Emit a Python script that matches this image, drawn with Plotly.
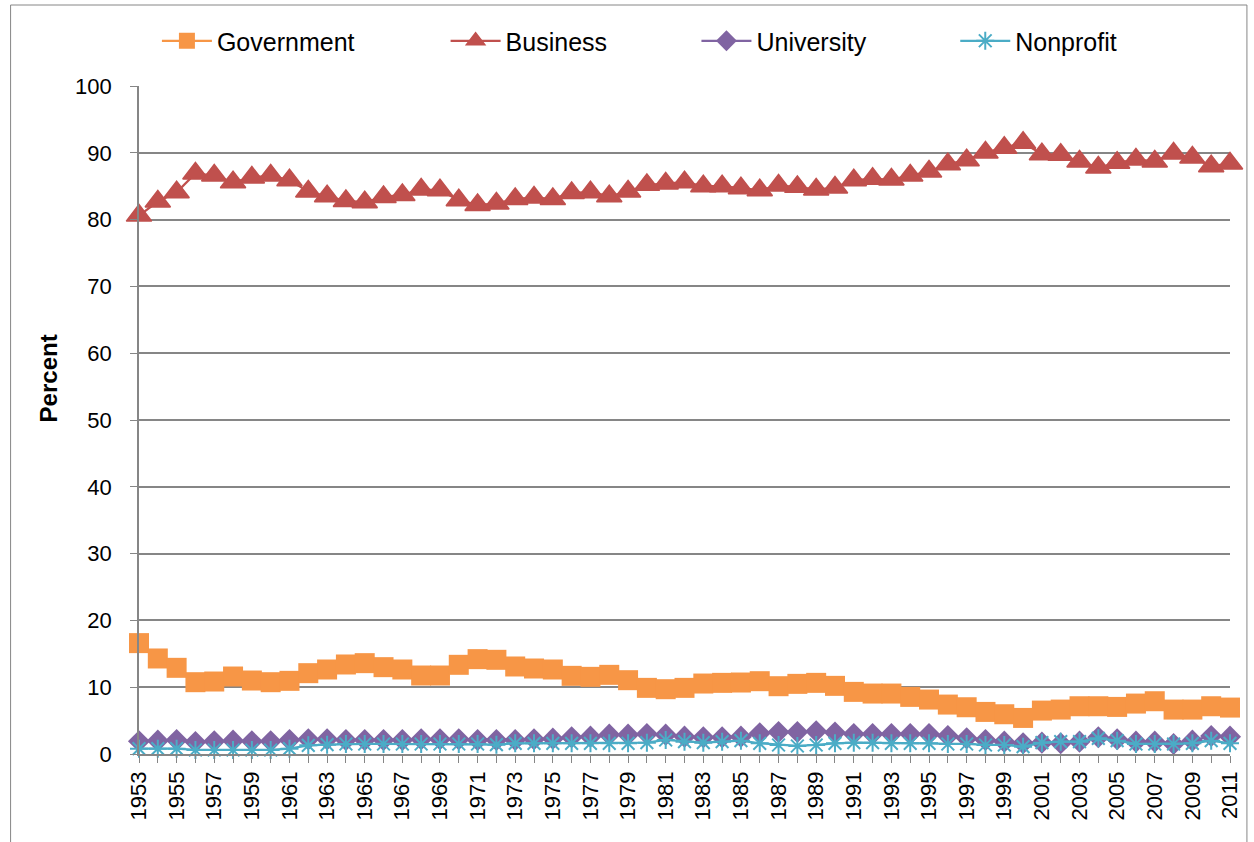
import plotly.graph_objects as go

years = list(range(1953, 2012))
tick_labels = [str(y) if y % 2 == 1 else "" for y in years]

government = [16.6, 14.3, 12.9, 10.75, 10.85, 11.6, 11.0, 10.75, 10.95, 12.1,
              12.65, 13.4, 13.6, 13.0, 12.65, 11.75, 11.75, 13.35, 14.2, 14.1,
              13.1, 12.8, 12.65, 11.7, 11.55, 11.85, 11.05, 9.9, 9.7, 9.9,
              10.55, 10.65, 10.7, 10.9, 10.15, 10.5, 10.65, 10.2, 9.3, 9.05,
              9.05, 8.55, 8.15, 7.4, 7.0, 6.3, 5.95, 5.4, 6.5, 6.65,
              7.15, 7.15, 7.05, 7.55, 7.9, 6.65, 6.65, 7.15, 6.95]
business = [80.6, 82.7, 84.1, 86.9, 86.6, 85.6, 86.3, 86.6, 85.9, 84.2,
            83.5, 82.8, 82.6, 83.4, 83.7, 84.5, 84.4, 82.9, 82.2, 82.4,
            83.1, 83.3, 83.1, 84.0, 84.1, 83.5, 84.2, 85.2, 85.4, 85.6,
            85.0, 85.0, 84.7, 84.4, 85.1, 84.9, 84.5, 84.8, 85.9, 86.1,
            86.0, 86.6, 87.2, 88.3, 88.9, 90.05, 90.75, 91.5, 89.8, 89.7,
            88.7, 87.8, 88.5, 89.0, 88.7, 89.9, 89.3, 88.0, 88.4]
university = [1.9, 2.0, 2.1, 1.8, 1.9, 2.0, 1.9, 1.9, 2.1, 2.2,
              2.2, 2.1, 2.1, 2.1, 2.1, 2.2, 2.2, 2.2, 2.1, 2.1,
              2.1, 2.2, 2.3, 2.5, 2.6, 2.9, 2.9, 3.0, 2.9, 2.6,
              2.5, 2.5, 2.6, 3.1, 3.3, 3.3, 3.4, 3.2, 3.0, 3.0,
              3.0, 3.0, 3.0, 2.7, 2.35, 2.1, 1.85, 1.6, 1.7, 1.6,
              1.85, 2.5, 2.2, 1.85, 1.85, 1.5, 2.0, 2.7, 2.6]
nonprofit = [0.8, 0.8, 0.8, 0.6, 0.6, 0.6, 0.6, 0.6, 0.8, 1.3,
             1.4, 1.5, 1.5, 1.5, 1.5, 1.5, 1.5, 1.5, 1.5, 1.4,
             1.6, 1.6, 1.6, 1.6, 1.6, 1.6, 1.6, 1.7, 2.1, 1.85,
             1.7, 1.85, 2.0, 1.6, 1.35, 1.2, 1.35, 1.6, 1.7, 1.7,
             1.6, 1.6, 1.6, 1.5, 1.5, 1.35, 1.35, 1.1, 1.7, 1.85,
             1.85, 2.35, 2.0, 1.5, 1.5, 1.5, 1.6, 2.0, 1.6]

FONT = "Liberation Sans, Arial, sans-serif"
GRID = "#868686"

series = [
    ("Government", government, "#F79646", "square", 20, 0, "legend"),
    ("Business", business, "#C0504D", "triangle-up", 22, 1.5, "legend2"),
    ("University", university, "#8064A2", "diamond", 17, 0, "legend3"),
    ("Nonprofit", nonprofit, "#4BACC6", "asterisk-open", 15, 2, "legend4"),
]

fig = go.Figure()
for name, vals, color, sym, size, lw, leg in series:
    fig.add_trace(go.Scatter(
        x=years, y=vals, name=name, mode="lines+markers",
        line=dict(color=color, width=2.25),
        marker=dict(symbol=sym, size=size, color=color, line=dict(color=color, width=lw)),
        cliponaxis=False, legend=leg,
    ))

W, H = 1254, 842
L, R, T, B = 139, 19, 86, 88
pw, ph = W - L - R, H - T - B

def px_x(x):
    return (x - L) / pw

def px_y(y):
    return (H - B - y) / ph

leg_common = dict(orientation="h", xanchor="left", yanchor="middle",
                  font=dict(family=FONT, size=25, color="#000000"),
                  bgcolor="rgba(0,0,0,0)", itemwidth=50)
layout_legends = {}
for key, xpx in [("legend", 157), ("legend2", 447), ("legend3", 699), ("legend4", 959)]:
    layout_legends[key] = dict(leg_common, x=px_x(xpx), y=px_y(41))

fig.update_layout(
    width=W, height=H,
    margin=dict(l=L, r=R, t=T, b=B),
    paper_bgcolor="white", plot_bgcolor="white",
    font=dict(family=FONT, size=22, color="#000000"),
    showlegend=True,
    **layout_legends,
    xaxis=dict(
        range=[1953, 2011], tickmode="array", tickvals=years, ticktext=tick_labels,
        tickangle=-90, ticks="outside", ticklen=7, tickcolor=GRID, tickwidth=1.4,
        showline=True, linecolor=GRID, linewidth=1.6, showgrid=False,
        zeroline=False, tickfont=dict(family=FONT, size=22),
    ),
    yaxis=dict(
        range=[0, 100], dtick=10, tick0=0, ticks="outside", ticklen=7,
        tickcolor=GRID, tickwidth=1.4, showline=True, linecolor=GRID, linewidth=1.6,
        showgrid=True, gridcolor=GRID, gridwidth=1.6, zeroline=False,
        tickfont=dict(family=FONT, size=22), ticklabelstandoff=14,
    ),
    annotations=[dict(
        text="<b>Percent</b>", textangle=-90, xref="paper", yref="paper",
        x=px_x(48), y=px_y(378), xanchor="center", yanchor="middle", showarrow=False,
        font=dict(family=FONT, size=24, color="#000000"),
    )],
    shapes=[dict(
        type="rect", xref="paper", yref="paper",
        x0=px_x(10), x1=px_x(1252), y0=px_y(850), y1=px_y(5),
        line=dict(color=GRID, width=1), layer="below",
    )],
)

fig.write_html("out.html", config={"displayModeBar": False},
               post_script="document.body.style.margin='0';")
